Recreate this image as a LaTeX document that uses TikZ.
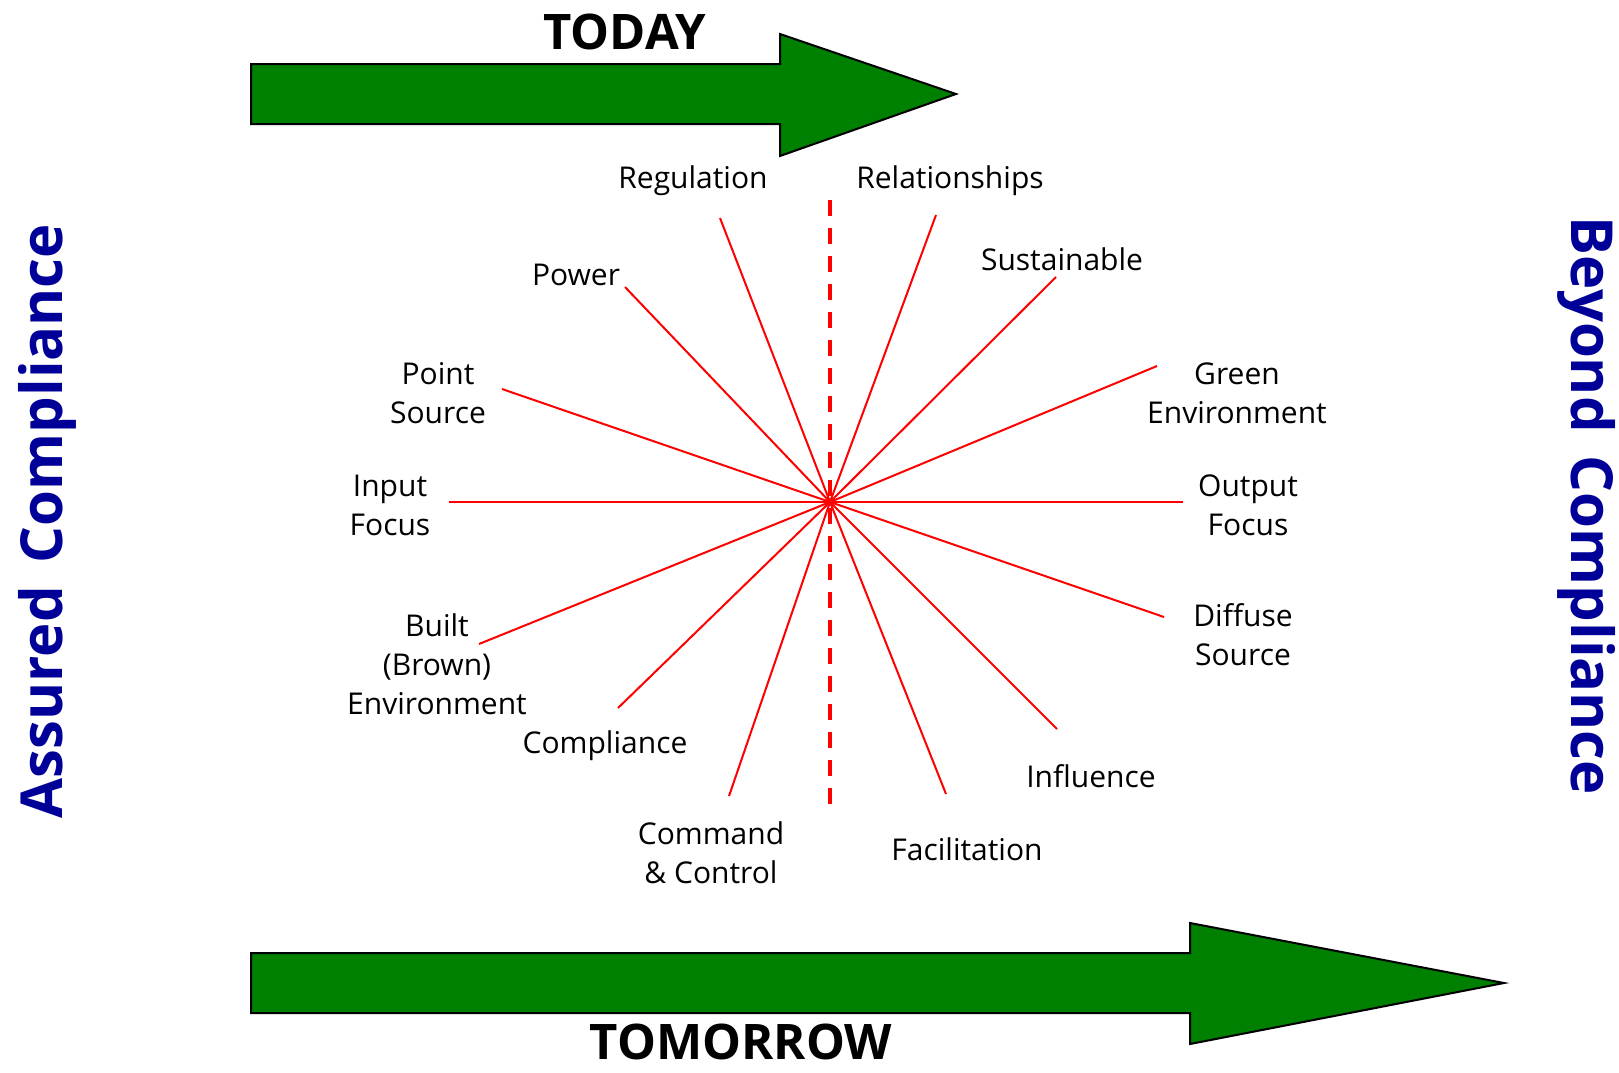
\documentclass[tikz,border=0pt]{standalone}
\usepackage{fontspec}
\setmainfont{Open Sans}
\definecolor{arrowgreen}{RGB}{0,128,0}
\definecolor{sideblue}{RGB}{0,0,153}
\begin{document}
\begin{tikzpicture}[x=1pt,y=-1pt,
  lbl/.style={font=\fontsize{30}{39}\selectfont, align=center, inner sep=0pt, text=black},
  title/.style={font=\fontsize{49}{55}\selectfont\bfseries, inner sep=0pt},
  side/.style={font=\fontsize{58}{60}\selectfont\bfseries, inner sep=0pt, text=sideblue},
  bigarrow/.style={fill=arrowgreen, draw=black, line width=2pt, line join=miter},
  ray/.style={draw=red, line width=2pt},
  divider/.style={draw=red, line width=4pt, dash pattern=on 16pt off 12pt}]
\useasboundingbox (0,0) rectangle (1619,1072);

% arrows
\draw[bigarrow] (251,64) -- (780,64) -- (780,34) -- (956,94) -- (780,156) -- (780,124) -- (251,124) -- cycle;
\draw[bigarrow] (251,953) -- (1190,953) -- (1190,923) -- (1504,983) -- (1190,1044) -- (1190,1013) -- (251,1013) -- cycle;
\node[title] (today) at (625,32) {TODAY};
\node[title] (tomorrow) at (741,1042) {TOMORROW};

% side labels
\node[side, rotate=90] (assured) at (47,521) {Assured\hspace{0.4em}Compliance};
\node[side, rotate=-90] (beyond) at (1587,506) {Beyond\hspace{0.4em}Compliance};

% centre and divider
\coordinate (c) at (830,502);
\coordinate (dtop) at (830,200);
\coordinate (dbot) at (830,806);
\draw[divider] (dtop) -- (dbot);

% ray ends
\coordinate (eReg) at (720,218);
\coordinate (eRel) at (936,215);
\coordinate (ePow) at (625,287);
\coordinate (eSus) at (1056,277);
\coordinate (ePt) at (502,389);
\coordinate (eGrn) at (1157,366);
\coordinate (eIn) at (449,502);
\coordinate (eOut) at (1183,502);
\coordinate (eBlt) at (479,644);
\coordinate (eDif) at (1164,617);
\coordinate (eCmp) at (618,708);
\coordinate (eInf) at (1057,729);
\coordinate (eCmd) at (729,796);
\coordinate (eFac) at (946,794);

\foreach \e in {eReg,eRel,ePow,eSus,ePt,eGrn,eIn,eOut,eBlt,eDif,eCmp,eInf,eCmd,eFac}
  \draw[ray] (c) -- (\e);

% labels
\node[lbl] (reg) at (693,181) {Regulation};
\node[lbl] (rel) at (950,181) {Relationships};
\node[lbl] (pow) at (576,275) {Power};
\node[lbl] (sus) at (1062,259) {Sustainable};
\node[lbl] (pt) at (438,393) {Point\\Source};
\node[lbl] (grn) at (1237,393) {Green\\Environment};
\node[lbl] (in) at (390,505) {Input\\Focus};
\node[lbl] (out) at (1248,505) {Output\\Focus};
\node[lbl] (blt) at (437,664) {Built\\(Brown)\\Environment};
\node[lbl] (dif) at (1243,635) {Diffuse\\Source};
\node[lbl] (cmp) at (605,746) {Compliance};
\node[lbl] (inf) at (1091,776) {Influence};
\node[lbl] (cmd) at (711,853) {Command\\\& Control};
\node[lbl] (fac) at (967,849) {Facilitation};
\end{tikzpicture}
\end{document}
